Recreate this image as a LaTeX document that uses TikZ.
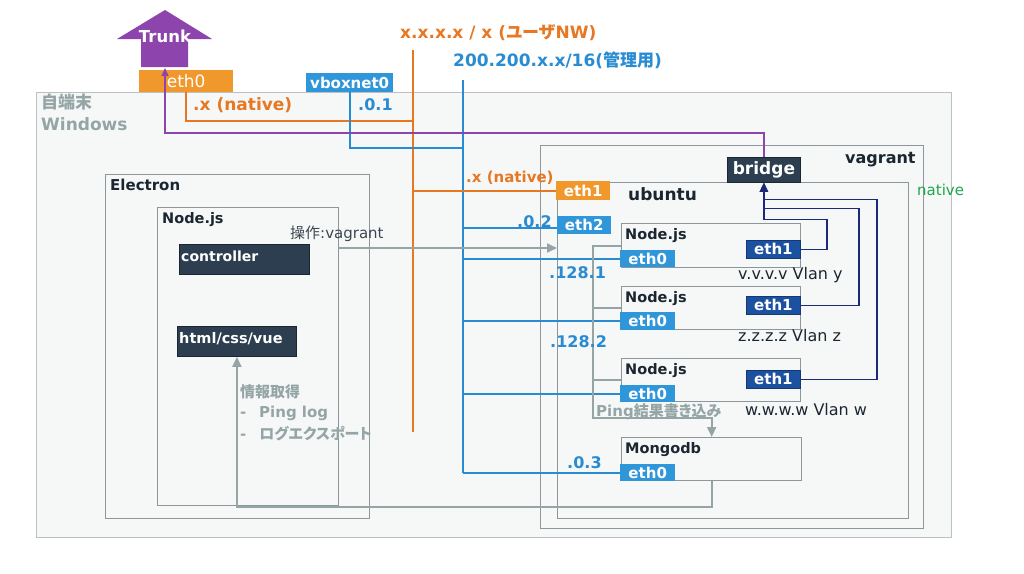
\documentclass[tikz,border=0pt]{standalone}
\usepackage{fontspec}
\setmainfont{DejaVu Sans}
\newfontfamily\jp{Noto Sans CJK JP}[RawFeature=+palt]
\usepackage{xcolor}
\usepackage{tikz}
\usetikzlibrary{arrows.meta}
\definecolor{nwOrange}{RGB}{241,152,44}
\definecolor{nwOrangeLn}{RGB}{232,119,34}
\definecolor{nwBlue}{RGB}{48,150,218}
\definecolor{nwBlueLn}{RGB}{41,140,210}
\definecolor{nwPurple}{RGB}{142,68,173}
\definecolor{nwDark}{RGB}{44,62,80}
\definecolor{nwEth}{RGB}{28,80,160}
\definecolor{nwNavy}{RGB}{28,40,120}
\definecolor{nwGray}{RGB}{149,165,166}
\definecolor{nwBorder}{RGB}{140,150,156}
\definecolor{nwFill}{RGB}{246,248,248}
\definecolor{nwText}{RGB}{27,38,49}
\definecolor{nwGreen}{RGB}{30,168,76}
\newcommand{\fsz}[1]{\fontsize{#1}{#1}\selectfont}

\begin{document}
\begin{tikzpicture}[x=1pt, y=-1pt,
    pane/.style={draw=nwBorder, fill=nwFill, line width=1.3pt, anchor=north west, inner sep=0pt},
    darkbox/.style={draw=nwText, fill=nwDark, line width=0.8pt, anchor=north west, inner sep=0pt},
    ifc/.style={anchor=north west, inner sep=0pt, text=white, font=\fsz{15}\bfseries},
    ifor/.style={ifc, fill=nwOrange},
    ifbl/.style={ifc, fill=nwBlue},
    ifnv/.style={ifc, fill=nwEth, draw=nwEth!70!black, line width=0.8pt},
    lbl/.style={anchor=base west, inner sep=0pt},
    usr/.style={draw=nwOrangeLn, line width=1.6pt},
    mgmt/.style={draw=nwBlueLn, line width=1.6pt},
    vlan/.style={draw=nwNavy, line width=1.6pt, -{Triangle[length=9pt,width=8pt]}},
    flow/.style={draw=nwGray, line width=1.8pt},
    arr/.style={flow, -{Triangle[length=10pt,width=9pt]}}
  ]
    \fill[white] (0,0) rectangle (1024,573);
    \useasboundingbox (0,0) rectangle (1024,573);

    \node[pane, draw=nwBorder!60, minimum width=915, minimum height=445] (win) at (36,92) {};
    \node[anchor=north west, inner sep=0pt, align=left, text=nwGray, font=\fsz{17}\bfseries] (winlbl) at (41,94) {{\jp 自端末}\\[5pt]Windows};

    \node[pane, minimum width=264, minimum height=344] (electron) at (105,174) {};
    \node[pane, minimum width=181, minimum height=298] (njs) at (157,207) {};
    \node[darkbox, minimum width=130, minimum height=30] (ctrl) at (179,244) {};
    \node[darkbox, minimum width=119, minimum height=30] (html) at (177,326) {};

    \node[pane, minimum width=383, minimum height=383] (vagrant) at (540,145) {};
    \node[pane, minimum width=351, minimum height=336] (ubuntu) at (557,182) {};
    \node[pane, minimum width=179, minimum height=44] (node1) at (621,223) {};
    \node[pane, minimum width=179, minimum height=43] (node2) at (621,286) {};
    \node[pane, minimum width=179, minimum height=43] (node3) at (621,358) {};
    \node[pane, minimum width=180, minimum height=43] (mongo) at (621,437) {};

    \fill[nwPurple] (141,67) -- (141,39) -- (117,39) -- (165,10) -- (212,39) -- (188,39) -- (188,67) -- cycle;
    \node[inner sep=0pt, text=white, font=\fsz{16.5}\bfseries] (trunk) at (165,36) {Trunk};
    \coordinate (trunkbase) at (165,68);

    \node[ifor, minimum width=94, minimum height=22, font=\fsz{17}] (wan) at (139,70) {eth0};
    \node[ifbl, minimum width=87, minimum height=19] (vbox) at (306,73) {vboxnet0};
    \node[ifor, minimum width=54, minimum height=19] (eth1u) at (556,181) {eth1};
    \node[ifbl, minimum width=54, minimum height=18] (eth2u) at (557,216) {eth2};
    \node[darkbox, minimum width=73, minimum height=25, text=white, font=\fsz{17}\bfseries] (bridge) at (727,157) {bridge};

    \node[ifbl, minimum width=55, minimum height=17] (n1eth0) at (620,250) {eth0};
    \node[ifbl, minimum width=55, minimum height=18] (n2eth0) at (620,312) {eth0};
    \node[ifbl, minimum width=55, minimum height=17] (n3eth0) at (620,385) {eth0};
    \node[ifbl, minimum width=55, minimum height=17] (m0eth0) at (620,464) {eth0};
    \node[ifnv, minimum width=54, minimum height=18] (n1eth1) at (746,240) {eth1};
    \node[ifnv, minimum width=54, minimum height=18] (n2eth1) at (746,296) {eth1};
    \node[ifnv, minimum width=54, minimum height=18] (n3eth1) at (746,370) {eth1};

    \coordinate (usrtop) at (413,50);
    \coordinate (usrbot) at (413,432);
    \coordinate (usrnat) at (413,121);
    \coordinate (mgmttop) at (463,80);
    \coordinate (mgmtbot) at (463,473);
    \coordinate (mgmtvb) at (463,148);
    \coordinate (trunkbend) at (165,133);
    \coordinate (opstart) at (338,248);
    \coordinate (pingbend) at (593,418);

    \draw[usr] (usrtop) -- (usrbot);
    \draw[mgmt] (mgmttop) -- (mgmtbot);
    \draw[usr] (wan.south) |- (usrnat);
    \draw[mgmt] (vbox.south) |- (mgmtvb);
    \draw[usr] (eth1u.west) -- (eth1u.west -| usrtop);
    \draw[mgmt] ([yshift=-3pt]eth2u.west) -- ([yshift=-3pt]eth2u.west -| mgmttop);
    \draw[mgmt] (n1eth0.west) -- (n1eth0.west -| mgmttop);
    \draw[mgmt] (n2eth0.west) -- (n2eth0.west -| mgmttop);
    \draw[mgmt] (n3eth0.west) -- (n3eth0.west -| mgmttop);
    \draw[mgmt] (m0eth0.west) -- (m0eth0.west -| mgmttop);

    \draw[nwPurple, line width=1.5pt, -{Triangle[length=8pt,width=7pt]}] (bridge.north) |- (trunkbend) -- (trunkbase);

    \draw[vlan] (n1eth1.east) -- ++(26,0) -- ++(0,-30) -| (bridge.south);
    \draw[vlan] (n2eth1.east) -- ++(58,0) -- ++(0,-97) -| (bridge.south);
    \draw[vlan] (n3eth1.east) -- ++(76,0) -- ++(0,-180) -| (bridge.south);

    \draw[arr] (opstart) -- (opstart -| ubuntu.west);
    \draw[arr] (node1.west) -| (pingbend) -| (mongo.north);
    \draw[flow] (node2.west) -- (node2.west -| pingbend);
    \draw[flow] (node3.west) -- (node3.west -| pingbend);
    \draw[arr] (mongo.south) -- ++(0,26) -| (html.south);

    \node[lbl, text=nwOrangeLn, font=\fsz{17}\bfseries] (usrnw) at (400,38) {x.x.x.x / x ({\jp ユーザ}NW)};
    \node[lbl, text=nwBlueLn, font=\fsz{17}\bfseries] (mgmtnw) at (453,66) {200.200.x.x/16({\jp 管理用})};
    \node[lbl, text=nwOrangeLn, font=\fsz{17}\bfseries] (natwan) at (193,110) {.x (native)};
    \node[lbl, text=nwBlueLn, font=\fsz{16}\bfseries] (ipvbox) at (358,110) {.0.1};
    \node[lbl, text=nwOrangeLn, font=\fsz{15}\bfseries] (natvm) at (466,182) {.x (native)};
    \node[lbl, text=nwBlueLn, font=\fsz{16}\bfseries] (ipeth2) at (517,227) {.0.2};
    \node[lbl, text=nwBlueLn, font=\fsz{16}\bfseries] (ipn1) at (549,278) {.128.1};
    \node[lbl, text=nwBlueLn, font=\fsz{16}\bfseries] (ipn2) at (550,347) {.128.2};
    \node[lbl, text=nwBlueLn, font=\fsz{16}\bfseries] (ipmongo) at (567,468) {.0.3};

    \node[lbl, text=nwText, font=\fsz{16}\bfseries] (vagrantlbl) at (845,163) {vagrant};
    \node[lbl, text=nwText, font=\fsz{17}\bfseries] (ubuntulbl) at (628,200) {ubuntu};
    \node[lbl, text=nwGreen, font=\fsz{15}] (nativelbl) at (917,195) {native};
    \node[lbl, text=nwText, font=\fsz{14.5}\bfseries] (node1lbl) at (625,239) {Node.js};
    \node[lbl, text=nwText, font=\fsz{14.5}\bfseries] (node2lbl) at (625,302) {Node.js};
    \node[lbl, text=nwText, font=\fsz{14.5}\bfseries] (node3lbl) at (625,374) {Node.js};
    \node[lbl, text=nwText, font=\fsz{14.5}\bfseries] (mongolbl) at (625,453) {Mongodb};
    \node[lbl, text=nwText, font=\fsz{16}] (vlany) at (738,279) {v.v.v.v Vlan y};
    \node[lbl, text=nwText, font=\fsz{16}] (vlanz) at (738,341) {z.z.z.z Vlan z};
    \node[lbl, text=nwText, font=\fsz{16}] (vlanw) at (745,415) {w.w.w.w Vlan w};

    \node[lbl, text=nwText, font=\fsz{15}\bfseries] (electronlbl) at (110,190) {Electron};
    \node[lbl, text=nwText, font=\fsz{14.5}\bfseries] (njslbl) at (162,223) {Node.js};
    \node[lbl, text=white, font=\fsz{14}\bfseries] (ctrllbl) at (181,261) {controller};
    \node[lbl, text=white, font=\fsz{14.5}\bfseries] (htmllbl) at (179,343) {html/css/vue};
    \node[lbl, text=nwText!85, font=\fsz{15}] (oplbl) at (290,238) {{\jp 操作}:vagrant};
    \node[lbl, text=nwGray, font=\fsz{15}\bfseries] (pinglbl) at (596,416) {Ping{\jp 結果書き込み}};
    \node[anchor=north west, inner sep=0pt, align=left, text=nwGray, font=\fsz{15}\bfseries] (infolbl) at (240,384) {{\jp 情報取得}\\[5pt]\makebox[19pt][l]{-}Ping log\\[5pt]\makebox[19pt][l]{-}{\jp ログエクスポート}};
  \end{tikzpicture}
\end{document}
